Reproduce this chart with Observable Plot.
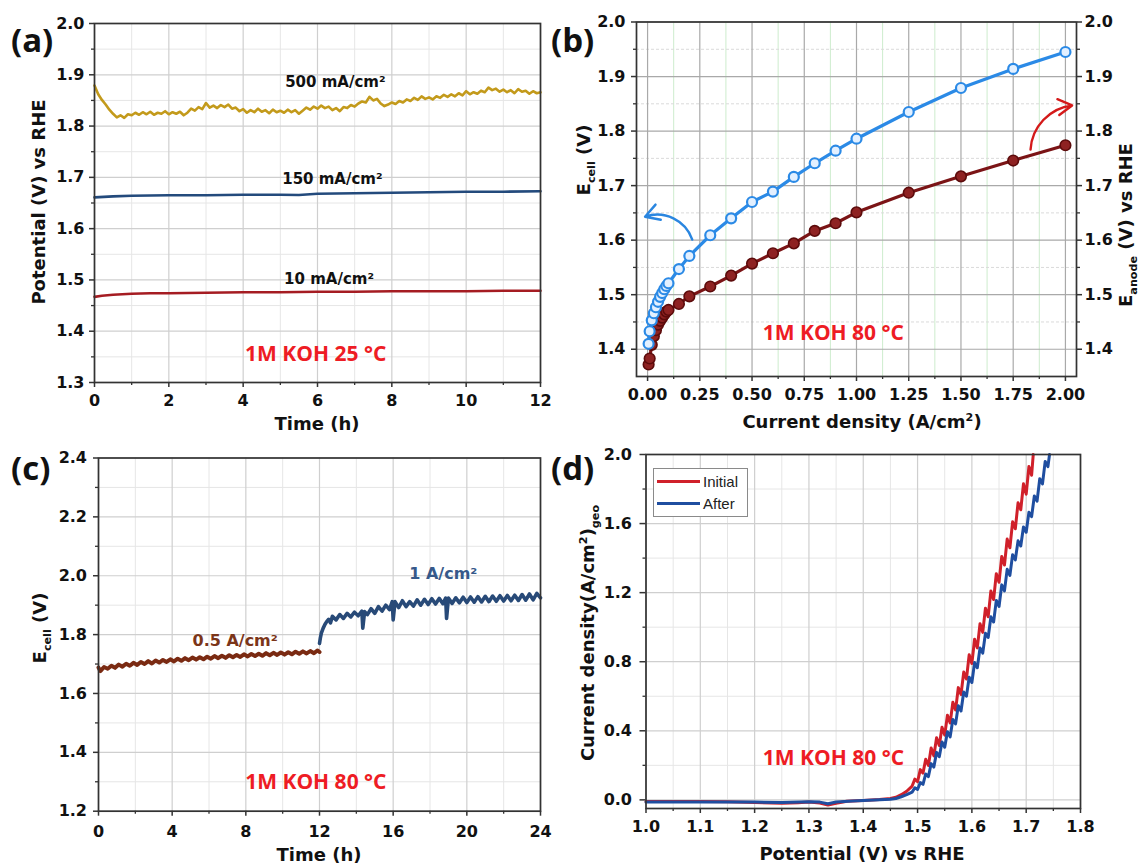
<!DOCTYPE html>
<html><head><meta charset="utf-8">
<script src="https://cdn.jsdelivr.net/npm/d3@7"></script>
<script src="https://cdn.jsdelivr.net/npm/@observablehq/plot@0.6"></script>
<style>
html,body{margin:0;padding:0;background:#fff;}
#fig{position:relative;width:1140px;height:866px;overflow:hidden;background:#fff;}
.lbl{position:absolute;font-family:'Open Sans',sans-serif;font-weight:700;font-size:33px;line-height:1;color:#111;}
.ttl{position:absolute;font-family:'DejaVu Sans',sans-serif;font-weight:bold;font-size:18px;white-space:nowrap;color:#111;line-height:1;transform:translate(-50%,-50%);}
.rot{transform:translate(-50%,-50%) rotate(-90deg);}
.ttl sub,.ttl sup{font-size:62%;line-height:0;}
.leg{position:absolute;left:653px;top:468px;width:95px;height:49px;border:1px solid #8a8a8a;background:#fff;box-sizing:border-box;}
.leg .ln{position:absolute;left:3px;width:43px;height:3px;}
.leg .tx{position:absolute;left:49px;font-family:'Liberation Sans',Arial,sans-serif;font-size:15px;line-height:1;color:#222;}
</style></head><body><div id="fig"></div><script>
const FONT = "'DejaVu Sans', 'Liberation Sans', sans-serif";

// ---------- Panel (a) ----------
const aTicksX = [0, 2, 4, 6, 8, 10, 12];
const aMinorX = [1, 3, 5, 7, 9, 11];
const aTicksY = [1.3, 1.4, 1.5, 1.6, 1.7, 1.8, 1.9, 2.0];
const aMinorY = [1.35, 1.45, 1.55, 1.65, 1.75, 1.85, 1.95];
const a500 = [[0,1.879],[0.1,1.862],[0.2,1.851],[0.3,1.842],[0.4,1.832],[0.5,1.824],[0.6,1.817],[0.7,1.821],[0.8,1.816],[0.9,1.823],
[1.0,1.821],[1.1,1.826],[1.2,1.822],[1.3,1.827],[1.4,1.823],[1.5,1.828],[1.6,1.822],[1.7,1.826],[1.8,1.824],[1.9,1.829],
[2.0,1.823],[2.1,1.827],[2.2,1.824],[2.3,1.828],[2.4,1.821],[2.5,1.826],[2.6,1.834],[2.7,1.830],[2.8,1.837],[2.9,1.833],
[3.0,1.845],[3.1,1.836],[3.2,1.840],[3.3,1.835],[3.4,1.841],[3.5,1.837],[3.6,1.842],[3.7,1.834],[3.8,1.836],[3.9,1.829],
[4.0,1.833],[4.1,1.826],[4.2,1.831],[4.3,1.827],[4.4,1.834],[4.5,1.828],[4.6,1.831],[4.7,1.825],[4.8,1.832],[4.9,1.827],
[5.0,1.830],[5.1,1.826],[5.2,1.832],[5.3,1.827],[5.4,1.831],[5.5,1.824],[5.6,1.830],[5.7,1.836],[5.8,1.832],[5.9,1.838],
[6.0,1.834],[6.1,1.840],[6.2,1.835],[6.3,1.838],[6.4,1.831],[6.5,1.835],[6.6,1.829],[6.7,1.837],[6.8,1.835],[6.9,1.841],
[7.0,1.838],[7.1,1.844],[7.2,1.848],[7.3,1.846],[7.4,1.857],[7.5,1.850],[7.6,1.853],[7.7,1.844],[7.8,1.839],[7.9,1.842],
[8.0,1.846],[8.1,1.843],[8.2,1.849],[8.3,1.846],[8.4,1.852],[8.5,1.849],[8.6,1.855],[8.7,1.851],[8.8,1.858],[8.9,1.853],
[9.0,1.856],[9.1,1.852],[9.2,1.858],[9.3,1.855],[9.4,1.861],[9.5,1.857],[9.6,1.862],[9.7,1.858],[9.8,1.864],[9.9,1.860],
[10.0,1.868],[10.1,1.862],[10.2,1.866],[10.3,1.863],[10.4,1.869],[10.5,1.866],[10.6,1.875],[10.7,1.870],[10.8,1.873],[10.9,1.867],
[11.0,1.871],[11.1,1.866],[11.2,1.870],[11.3,1.864],[11.4,1.872],[11.5,1.867],[11.6,1.869],[11.7,1.863],[11.8,1.868],[11.9,1.864],[12.0,1.866]];
const a150 = [[0,1.661],[0.5,1.663],[1,1.664],[2,1.665],[3,1.665],[4,1.666],[5,1.666],[5.5,1.6655],[5.8,1.667],[6,1.668],[7,1.669],[8,1.670],[9,1.671],[10,1.672],[11,1.672],[12,1.673]];
const a10 = [[0,1.467],[0.2,1.469],[0.5,1.471],[1,1.473],[1.5,1.474],[2,1.474],[3,1.475],[4,1.476],[5,1.476],[6,1.477],[7,1.477],[8,1.478],[9,1.478],[10,1.478],[11,1.479],[12,1.479]];
const aLabelText = ["500 mA/cm²", "150 mA/cm²", "10 mA/cm²"];
const aLabelT = [6.48, 6.40, 6.31];
const aLabelV = [1.886, 1.697, 1.502];

// ---------- Panel (b) ----------
const bTicksX = [0, 0.25, 0.5, 0.75, 1.0, 1.25, 1.5, 1.75, 2.0];
const bMinorX = [0.125, 0.375, 0.625, 0.875, 1.125, 1.375, 1.625, 1.875];
const bTicksY = [1.4, 1.5, 1.6, 1.7, 1.8, 1.9, 2.0];
const bMinorY = [1.45, 1.55, 1.65, 1.75, 1.85, 1.95];
const bCurrent = [0.005,0.01,0.02,0.03,0.04,0.05,0.06,0.07,0.08,0.09,0.1,0.15,0.2,0.3,0.4,0.5,0.6,0.7,0.8,0.9,1.0,1.25,1.5,1.75,2.0];
const bEcell  = [1.410,1.433,1.453,1.466,1.477,1.487,1.496,1.503,1.510,1.516,1.521,1.547,1.571,1.609,1.640,1.670,1.689,1.716,1.741,1.764,1.786,1.835,1.879,1.914,1.945];
const bEanode = [1.372,1.383,1.408,1.424,1.435,1.445,1.452,1.458,1.464,1.469,1.472,1.483,1.497,1.515,1.535,1.557,1.576,1.594,1.617,1.631,1.651,1.687,1.717,1.746,1.774];
const bArrowBlue = {x1: 0.214, y1: 1.601, x2: -0.012, y2: 1.643};
const bArrowRed = {x1: 1.833, y1: 1.766, x2: 2.032, y2: 1.847};

// ---------- Panel (c) ----------
const cTicksX = [0, 4, 8, 12, 16, 20, 24];
const cMinorX = [2, 6, 10, 14, 18, 22];
const cTicksY = [1.2, 1.4, 1.6, 1.8, 2.0, 2.2, 2.4];
const cMinorY = [1.3, 1.5, 1.7, 1.9, 2.1, 2.3];
const cHalf = [[0.0,1.688],[0.1,1.676],[0.3,1.690],[0.5,1.684],[0.7,1.694],[0.9,1.687],[1.1,1.698],[1.3,1.691],[1.5,1.701],[1.7,1.694],
[1.9,1.704],[2.1,1.697],[2.3,1.707],[2.5,1.700],[2.7,1.710],[2.9,1.702],[3.1,1.712],[3.3,1.705],[3.5,1.714],[3.7,1.707],
[3.9,1.716],[4.1,1.709],[4.3,1.718],[4.5,1.711],[4.7,1.720],[4.9,1.713],[5.1,1.722],[5.3,1.715],[5.5,1.723],[5.7,1.716],
[5.9,1.725],[6.1,1.718],[6.3,1.727],[6.5,1.720],[6.7,1.728],[6.9,1.721],[7.1,1.730],[7.3,1.723],[7.5,1.731],[7.7,1.724],
[7.9,1.733],[8.1,1.726],[8.3,1.734],[8.5,1.727],[8.7,1.735],[8.9,1.728],[9.1,1.737],[9.3,1.730],[9.5,1.738],[9.7,1.731],
[9.9,1.739],[10.1,1.732],[10.3,1.740],[10.5,1.733],[10.7,1.742],[10.9,1.735],[11.1,1.743],[11.3,1.736],[11.5,1.744],[11.7,1.737],[11.9,1.746],[12.0,1.741]];
const cOne = [[12.0,1.770],[12.05,1.790],[12.1,1.805],[12.2,1.822],[12.3,1.835],[12.4,1.845],[12.5,1.852],[12.6,1.840],[12.7,1.862],[12.9,1.850],
[13.1,1.868],[13.3,1.855],[13.5,1.872],[13.7,1.860],[13.9,1.876],[14.1,1.864],[14.3,1.880],[14.35,1.822],[14.45,1.878],[14.6,1.868],
[14.8,1.888],[15.0,1.872],[15.2,1.895],[15.4,1.880],[15.6,1.900],[15.8,1.885],[15.95,1.912],[16.0,1.850],[16.1,1.912],[16.3,1.892],
[16.5,1.915],[16.7,1.895],[16.9,1.912],[17.1,1.897],[17.3,1.918],[17.5,1.900],[17.7,1.920],[17.9,1.902],[18.1,1.922],[18.3,1.904],
[18.5,1.923],[18.7,1.905],[18.85,1.924],[18.9,1.855],[19.0,1.924],[19.2,1.906],[19.4,1.925],[19.6,1.908],[19.8,1.927],[20.0,1.909],
[20.2,1.928],[20.4,1.910],[20.6,1.929],[20.8,1.911],[21.0,1.930],[21.2,1.912],[21.4,1.931],[21.6,1.913],[21.8,1.932],[22.0,1.914],
[22.2,1.933],[22.4,1.915],[22.6,1.934],[22.8,1.916],[23.0,1.936],[23.2,1.917],[23.4,1.938],[23.6,1.918],[23.8,1.940],[24.0,1.925]];

// ---------- Panel (d) ----------
const dTicksX = [1.0, 1.1, 1.2, 1.3, 1.4, 1.5, 1.6, 1.7, 1.8];
const dMinorX = [1.05, 1.15, 1.25, 1.35, 1.45, 1.55, 1.65, 1.75];
const dTicksY = [0, 0.4, 0.8, 1.2, 1.6, 2.0];
const dMinorY = [0.2, 0.6, 1.0, 1.4, 1.8];
const dInitial = [[1.00,-0.010],[1.05,-0.010],[1.10,-0.010],[1.15,-0.011],[1.20,-0.015],[1.25,-0.020],[1.28,-0.016],[1.30,-0.013],[1.32,-0.018],[1.335,-0.030],
[1.35,-0.020],[1.37,-0.008],[1.40,-0.003],[1.43,0.002],[1.45,0.008],[1.46,0.015],[1.47,0.030],[1.48,0.050],[1.49,0.080],[1.495,0.120],
[1.500,0.105],[1.505,0.175],[1.510,0.155],[1.515,0.235],[1.520,0.200],[1.525,0.300],[1.530,0.255],[1.535,0.360],[1.540,0.315],[1.545,0.420],
[1.550,0.375],[1.555,0.490],[1.560,0.445],[1.565,0.565],[1.570,0.520],[1.575,0.650],[1.580,0.610],[1.585,0.740],[1.590,0.700],[1.595,0.840],
[1.600,0.790],[1.605,0.930],[1.610,0.880],[1.615,1.020],[1.620,0.970],[1.625,1.110],[1.630,1.060],[1.635,1.210],[1.640,1.160],[1.645,1.310],
[1.650,1.260],[1.655,1.410],[1.660,1.360],[1.665,1.510],[1.670,1.460],[1.675,1.610],[1.680,1.570],[1.685,1.720],[1.690,1.680],[1.695,1.830],
[1.700,1.770],[1.705,1.930],[1.710,1.880],[1.713,2.000]];
const dAfter = [[1.00,-0.012],[1.05,-0.012],[1.10,-0.012],[1.15,-0.012],[1.20,-0.013],[1.25,-0.015],[1.30,-0.011],[1.32,-0.013],[1.335,-0.022],[1.35,-0.012],
[1.38,-0.006],[1.40,-0.004],[1.43,0.000],[1.45,0.004],[1.46,0.008],[1.47,0.018],[1.48,0.030],[1.49,0.045],[1.495,0.070],[1.500,0.060],
[1.505,0.100],[1.510,0.090],[1.515,0.150],[1.520,0.135],[1.525,0.210],[1.530,0.190],[1.535,0.275],[1.540,0.250],[1.545,0.335],[1.550,0.305],
[1.555,0.395],[1.560,0.365],[1.565,0.465],[1.570,0.440],[1.575,0.545],[1.580,0.515],[1.585,0.625],[1.590,0.600],[1.595,0.710],[1.600,0.680],
[1.605,0.795],[1.610,0.765],[1.615,0.880],[1.620,0.850],[1.625,0.965],[1.630,0.940],[1.635,1.060],[1.640,1.030],[1.645,1.155],[1.650,1.120],
[1.655,1.245],[1.660,1.210],[1.665,1.335],[1.670,1.300],[1.675,1.420],[1.680,1.390],[1.685,1.500],[1.690,1.470],[1.695,1.580],[1.700,1.550],
[1.705,1.665],[1.710,1.640],[1.715,1.760],[1.720,1.730],[1.725,1.860],[1.730,1.830],[1.735,1.960],[1.740,1.930],[1.743,2.000]];

// ---------- helpers ----------
const fig = document.getElementById("fig");
const X = d => d[0], Y = d => d[1];

function scaffold(c) {
  const blank = () => "";
  return [
    Plot.gridX(c.minX, {stroke: c.minXColor || "#e6e6e6", strokeOpacity: 1, strokeWidth: 1}),
    Plot.gridY(c.minY, {stroke: c.minYColor || "#e6e6e6", strokeOpacity: 1, strokeWidth: 1, strokeDasharray: c.minYDash}),
    Plot.gridX(c.majX, {stroke: c.majColor || "#cfcfcf", strokeOpacity: 1, strokeWidth: 1.2}),
    Plot.gridY(c.majY, {stroke: c.majColor || "#cfcfcf", strokeOpacity: 1, strokeWidth: 1.2}),
    Plot.axisX(c.majX, {tickSize: 5, tickPadding: c.xPad, tickFormat: c.xFmt, label: null, stroke: "#333", strokeWidth: 1.5, fontSize: 16}),
    Plot.axisX(c.minX, {tickSize: 3, tickFormat: blank, label: null, stroke: "#333", strokeWidth: 1.3}),
    Plot.axisY(c.majY, {tickSize: c.yTick || 5, tickPadding: c.yPad, tickFormat: c.yFmt, label: null, stroke: "#333", strokeWidth: 1.5, fontSize: 16}),
    Plot.axisY(c.minY, {tickSize: 3, tickFormat: blank, label: null, stroke: "#333", strokeWidth: 1.3})
  ];
}

function panel(c, marks) {
  const svg = Plot.plot({
    width: c.w, height: c.h,
    marginLeft: c.ml, marginRight: c.mr, marginTop: c.mt, marginBottom: c.mb,
    x: {domain: c.xd, label: null},
    y: {domain: c.yd, label: null},
    style: {fontFamily: FONT, fontWeight: "bold", fontSize: "16px", color: "#111", background: "transparent", overflow: "visible"},
    marks: [...scaffold(c), ...marks, Plot.frame({stroke: "#333", strokeWidth: 1.7})]
  });
  svg.style.position = "absolute";
  svg.style.left = c.left + "px";
  svg.style.top = c.top + "px";
  fig.appendChild(svg);
}

function html(cls, left, top, inner, extra) {
  const d = document.createElement("div");
  d.className = cls;
  d.style.left = left + "px";
  d.style.top = top + "px";
  d.innerHTML = inner;
  if (extra) Object.assign(d.style, extra);
  fig.appendChild(d);
  return d;
}

const f1 = d3.format(".1f"), f2 = d3.format(".2f"), fi = d3.format("d");
const redNote = {fontFamily: "'Open Sans', sans-serif", fontWeight: 700, fontSize: 21, fill: "#ee1c24"};

// ---------- draw (a) ----------
panel({left: 0, top: 0, w: 570, h: 440, ml: 94, mr: 30, mt: 23, mb: 58,
  xd: [0, 12], yd: [1.3, 2.0], majX: aTicksX, minX: aMinorX, majY: aTicksY, minY: aMinorY,
  xFmt: fi, yFmt: f1, xPad: 7, yPad: 5}, [
  Plot.line(a500, {x: X, y: Y, stroke: "#c39a1b", strokeWidth: 2.6}),
  Plot.line(a150, {x: X, y: Y, stroke: "#234a7c", strokeWidth: 2.6}),
  Plot.line(a10, {x: X, y: Y, stroke: "#a51c22", strokeWidth: 2.6}),
  Plot.text(aLabelText, {x: (d, i) => aLabelT[i], y: (d, i) => aLabelV[i], text: d => d, fontSize: 15, fontWeight: "bold", fill: "#111", fontFamily: FONT}),
  Plot.text(["1M KOH 25 °C"], {x: 5.95, y: 1.355, text: d => d, ...redNote})
]);

// ---------- draw (b) ----------
const bRows = bCurrent.map((x, i) => ({x, cell: bEcell[i], anode: bEanode[i]}));
panel({left: 570, top: 0, w: 570, h: 440, ml: 66, mr: 64, mt: 21.5, mb: 64,
  xd: [-0.053, 2.053], yd: [1.35, 2.0], majX: bTicksX, minX: bMinorX, majY: bTicksY, minY: bMinorY,
  minXColor: "#cdeccd", minYColor: "#dadada", minYDash: "3,2", majColor: "#a9a9a9",
  xFmt: f2, yFmt: f1, xPad: 7, yPad: 6}, [
  Plot.axisY(bTicksY, {anchor: "right", tickSize: 5, tickPadding: 3, tickFormat: f1, label: null, stroke: "#333", strokeWidth: 1.5, fontSize: 16}),
  Plot.axisY(bMinorY, {anchor: "right", tickSize: 3, tickFormat: () => "", label: null, stroke: "#333", strokeWidth: 1.3}),
  Plot.line(bRows, {x: "x", y: "anode", stroke: "#7b1416", strokeWidth: 3.2}),
  Plot.dot(bRows, {x: "x", y: "anode", r: 5.3, fill: "#8e2222", stroke: "#5c0b0b", strokeWidth: 1.6}),
  Plot.line(bRows, {x: "x", y: "cell", stroke: "#2b8ae6", strokeWidth: 3.2}),
  Plot.dot(bRows, {x: "x", y: "cell", r: 5, fill: "#e3f0ff", stroke: "#2b8ae6", strokeWidth: 2.2}),
  Plot.arrow([bArrowBlue], {x1: "x1", y1: "y1", x2: "x2", y2: "y2", bend: -45, stroke: "#2a86e0", strokeWidth: 2.4, headLength: 10}),
  Plot.arrow([bArrowRed], {x1: "x1", y1: "y1", x2: "x2", y2: "y2", bend: 40, stroke: "#d41a1a", strokeWidth: 2.4, headLength: 10}),
  Plot.text(["1M KOH 80 °C"], {x: 0.889, y: 1.429, text: d => d, ...redNote})
]);

// ---------- draw (c) ----------
panel({left: 0, top: 440, w: 570, h: 426, ml: 98, mr: 30, mt: 17.5, mb: 55.3,
  xd: [0, 24], yd: [1.2, 2.4], majX: cTicksX, minX: cMinorX, majY: cTicksY, minY: cMinorY,
  xFmt: fi, yFmt: f1, xPad: 9, yPad: 6.5}, [
  Plot.line(cHalf, {x: X, y: Y, stroke: "#7a2a12", strokeWidth: 4}),
  Plot.line(cOne, {x: X, y: Y, stroke: "#284a78", strokeWidth: 3.6}),
  Plot.text(["0.5 A/cm²"], {x: 7.42, y: 1.777, text: d => d, fontSize: 16, fontWeight: "bold", fill: "#7b3519", fontFamily: FONT}),
  Plot.text(["1 A/cm²"], {x: 18.72, y: 2.006, text: d => d, fontSize: 16, fontWeight: "bold", fill: "#36598a", fontFamily: FONT}),
  Plot.text(["1M KOH 80 °C"], {x: 11.8, y: 1.298, text: d => d, ...redNote})
]);

// ---------- draw (d) ----------
panel({left: 570, top: 440, w: 570, h: 426, ml: 75.5, mr: 60, mt: 14, mb: 58,
  xd: [1.0, 1.8], yd: [-0.05, 2.0], majX: dTicksX, minX: dMinorX, majY: dTicksY, minY: dMinorY,
  xFmt: f1, yFmt: f1, xPad: 7, yPad: 8, yTick: 6}, [
  Plot.line(dInitial, {x: X, y: Y, stroke: "#d0202a", strokeWidth: 3}),
  Plot.line(dAfter, {x: X, y: Y, stroke: "#1f4ea0", strokeWidth: 3}),
  Plot.text(["1M KOH 80 °C"], {x: 1.345, y: 0.242, text: d => d, ...redNote})
]);

// ---------- panel letters ----------
html("lbl", 11, 23, "(a)");
html("lbl", 551, 23, "(b)");
html("lbl", 11, 451, "(c)");
html("lbl", 551, 451, "(d)");

// ---------- axis titles ----------
html("ttl rot", 39, 202, "Potential (V) vs RHE");
html("ttl", 317, 424, "Time (h)");
html("ttl rot", 584, 160, "E<sub>cell</sub> (V)");
html("ttl rot", 1126, 225, "E<sub>anode</sub> (V) vs RHE");
html("ttl", 862, 422, "Current density (A/cm<sup>2</sup>)");
html("ttl rot", 40, 628, "E<sub>cell</sub> (V)");
html("ttl", 319, 855, "Time (h)");
html("ttl rot", 588, 633, "Current density(A/cm<sup>2</sup>)<sub>geo</sub>");
html("ttl", 862, 854, "Potential (V) vs RHE");

// ---------- legend (d) ----------
const leg = html("leg", 653, 468, "");
const legItems = [["Initial", "#d0202a", 12.5], ["After", "#1f4ea0", 34.5]];
legItems.forEach(([name, color, y]) => {
  const ln = document.createElement("div"); ln.className = "ln"; ln.style.top = (y - 1.5) + "px"; ln.style.background = color; leg.appendChild(ln);
  const tx = document.createElement("div"); tx.className = "tx"; tx.style.top = (y - 8) + "px"; tx.textContent = name; leg.appendChild(tx);
});
</script></body></html>
